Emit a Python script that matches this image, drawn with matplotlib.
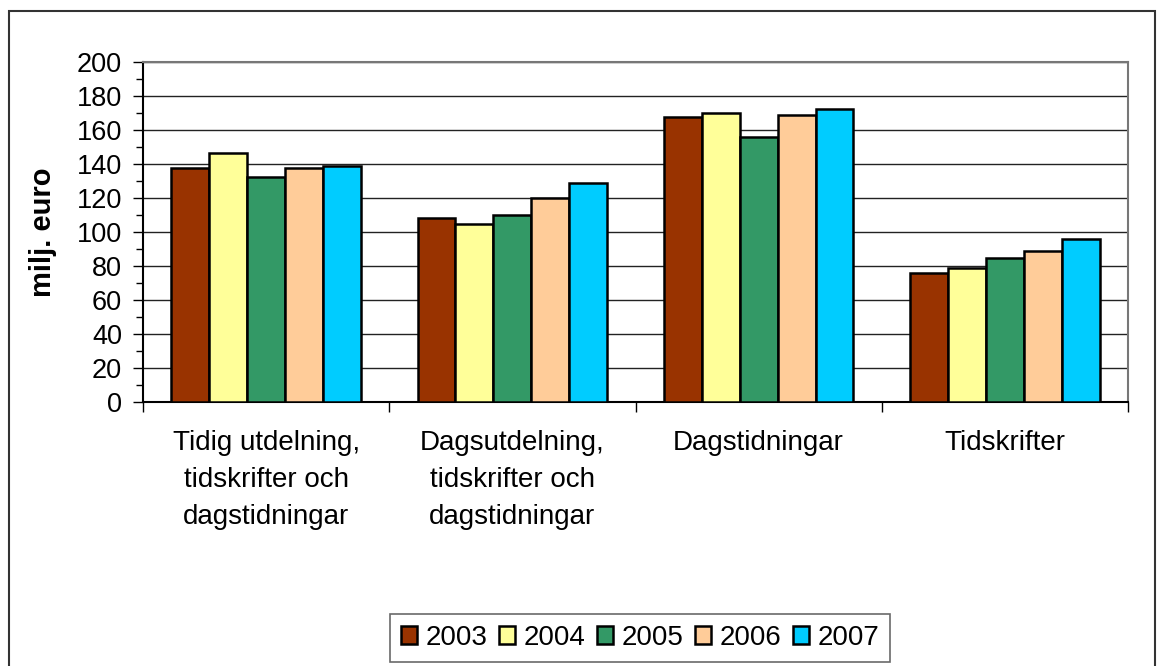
import matplotlib
matplotlib.use("Agg")
import matplotlib.pyplot as plt
from matplotlib.patches import Rectangle
from matplotlib.ticker import MultipleLocator
import numpy as np

categories = ["Tidig utdelning,\ntidskrifter och\ndagstidningar",
              "Dagsutdelning,\ntidskrifter och\ndagstidningar",
              "Dagstidningar",
              "Tidskrifter"]
years = ["2003", "2004", "2005", "2006", "2007"]
values = {
    "2003": [137.6, 108.5, 167.6, 76.1],
    "2004": [146.5, 104.7, 170.2, 78.6],
    "2005": [132.4, 109.8, 155.9, 84.9],
    "2006": [137.6, 119.8, 168.8, 89.0],
    "2007": [138.8, 128.8, 172.6, 95.7],
}
colors = ["#993300", "#FFFF99", "#339966", "#FFCC99", "#00CCFF"]
ylabel = "milj. euro"

plt.rcParams['font.family'] = ['Liberation Sans', 'DejaVu Sans']

W, H = 1164, 666
fig = plt.figure(figsize=(W / 100, H / 100), dpi=100)

# outer frame
fig.patches.append(Rectangle((9 / W, -0.01), (1155 - 9) / W, (H - 11) / H + 0.01,
                             transform=fig.transFigure, fill=False,
                             edgecolor="#333333", linewidth=1.5))

x0, x1, ytop, ybot = 143, 1128, 62, 402
ax = fig.add_axes([x0 / W, 1 - ybot / H, (x1 - x0) / W, (ybot - ytop) / H])

n = len(categories)
x = np.arange(n)
bw = 0.154
for i, (yr, c) in enumerate(zip(years, colors)):
    offs = (i - 2) * bw
    ax.bar(x + offs, values[yr], width=bw, color=c, edgecolor="black",
           linewidth=1.8, label=yr, zorder=3)

ax.set_xlim(-0.5, n - 0.5)
ax.set_ylim(0, 200)
ax.yaxis.set_major_locator(MultipleLocator(20))
ax.yaxis.set_minor_locator(MultipleLocator(10))
ax.grid(axis="y", which="major", color="#222222", linewidth=1.0, zorder=0)

ax.set_xticks(np.arange(-0.5, n, 1.0))
ax.set_xticklabels([])
ax.set_xticks(x, minor=True)
ax.set_xticklabels(categories, minor=True, fontsize=20, linespacing=1.55,
                   va="top")
ax.tick_params(axis="x", which="minor", length=0, pad=20)
ax.tick_params(axis="x", which="major", length=7, width=1, direction="out")
ax.tick_params(axis="y", which="major", length=7, width=1, labelsize=19.5, pad=8)
ax.tick_params(axis="y", which="minor", length=5, width=1)

for s in ["top", "right"]:
    ax.spines[s].set_color("#777777")
    ax.spines[s].set_linewidth(1.5)
for s in ["left", "bottom"]:
    ax.spines[s].set_color("black")
    ax.spines[s].set_linewidth(1.5)

ax.set_ylabel(ylabel, fontsize=21, fontweight="bold", labelpad=14)

leg = fig.legend(loc="center", bbox_to_anchor=(640 / W, 1 - 638 / H),
                 ncol=5, fontsize=20, frameon=True, fancybox=False,
                 edgecolor="#444444", handlelength=0.6, handleheight=0.6,
                 handletextpad=0.3, columnspacing=0.4, borderpad=0.4)
leg.get_frame().set_linewidth(1.2)

fig.savefig("out.png", dpi=100)
